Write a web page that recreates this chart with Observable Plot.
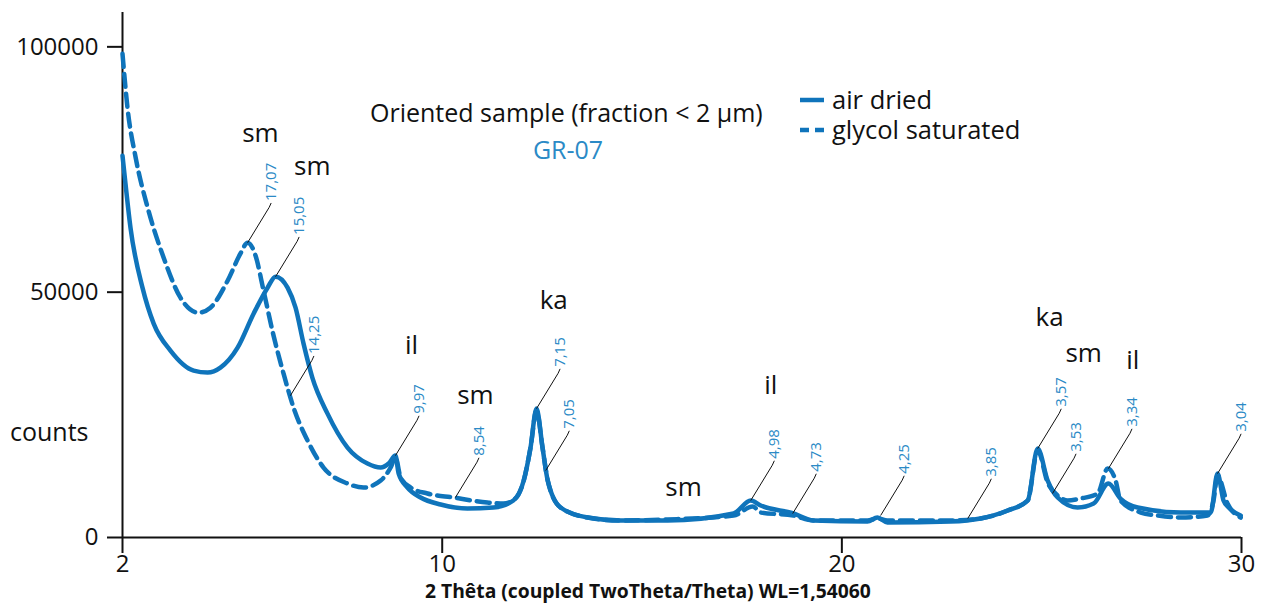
<!DOCTYPE html>
<html>
<head>
<meta charset="utf-8">
<script src="https://cdn.jsdelivr.net/npm/d3@7"></script>
<script src="https://cdn.jsdelivr.net/npm/@observablehq/plot@0.6"></script>
<style>
  html, body { margin: 0; padding: 0; background: #fff; }
  #wrap { position: relative; width: 1266px; height: 608px; font-family: "Open Sans", sans-serif; }
  .ov { position: absolute; white-space: nowrap; line-height: 1; }
</style>
</head>
<body>
<div id="wrap">
  <div id="chart"></div>
  <div class="ov" id="title" style="left:370px; top:100px; font-size:25px; color:#111;"></div>
  <div class="ov" id="subtitle" style="left:530px; width:76px; text-align:center; top:137px; font-size:25px; color:#2b8ac6;"></div>
  <div class="ov" id="legend" style="left:797px; top:85px; font-size:25.5px; color:#111;"></div>
  <div class="ov" id="ylab" style="left:10px; top:419px; font-size:25px; color:#111;"></div>
  <div class="ov" id="xlab" style="left:425px; top:581px; font-size:19.3px; font-weight:bold; color:#111;"></div>
</div>
<script>
// ---- data ----
const titleText = "Oriented sample (fraction < 2 µm)";
const subtitleText = "GR-07";
const seriesNames = ["air dried", "glycol saturated"];
const xLabel = "2 Thêta (coupled TwoTheta/Theta) WL=1,54060";
const yLabel = "counts";
const xTicks = [2, 10, 20, 30];
const yTicks = [0, 50000, 100000];

// air dried (solid)
const airTheta = [2.00, 2.075, 2.20, 2.50, 2.78, 3.20, 3.78, 4.13, 4.45, 4.88, 5.28, 5.63, 5.83, 6.13, 6.33, 6.53, 6.75, 7.13, 7.63, 8.13, 8.46, 8.66, 8.83, 8.91, 9.13, 9.46, 9.96, 10.63, 11.28, 11.78, 12.04, 12.21, 12.36, 12.51, 12.64, 12.96, 13.64, 14.46, 15.64, 17.29, 17.72, 17.97, 18.79, 19.29, 20.64, 20.89, 21.14, 22.72, 23.47, 24.15, 24.65, 24.90, 25.15, 25.40, 25.90, 26.30, 26.67, 26.97, 27.40, 28.48, 29.23, 29.40, 29.55, 29.68, 29.98];
const airCounts = [77800, 72100, 63140, 50920, 43590, 38090, 34010, 33610, 34620, 38700, 45620, 50920, 53160, 50920, 46840, 39510, 32590, 25250, 18330, 15070, 14260, 15070, 16700, 13030, 10180, 8150, 6720, 5910, 6110, 7540, 11610, 18330, 26270, 18330, 11610, 6110, 4070, 3460, 3460, 4890, 7540, 6520, 4890, 3460, 3260, 4070, 3060, 3260, 3870, 5500, 7540, 18130, 11610, 8150, 6110, 6920, 11000, 7940, 6110, 5090, 5090, 13030, 7540, 6110, 4480];

// glycol saturated (dashed)
const glyTheta = [2.00, 2.125, 2.33, 2.63, 3.03, 3.45, 3.90, 4.20, 4.63, 4.95, 5.13, 5.33, 5.53, 5.78, 6.03, 6.28, 6.63, 7.03, 7.63, 8.03, 8.46, 8.71, 8.83, 8.96, 9.21, 9.63, 10.28, 11.13, 11.53, 11.83, 12.04, 12.21, 12.36, 12.51, 12.64, 12.96, 13.64, 14.46, 15.64, 17.29, 17.77, 17.97, 18.79, 19.29, 20.64, 20.89, 21.14, 22.72, 23.47, 24.15, 24.65, 24.90, 25.15, 25.40, 25.65, 25.97, 26.40, 26.65, 26.85, 26.97, 27.48, 27.90, 28.48, 29.15, 29.30, 29.40, 29.65, 29.98];
const glyCounts = [98580, 87580, 77390, 67210, 57030, 48880, 45830, 46840, 52340, 57840, 60080, 57430, 50300, 41140, 33400, 26480, 19760, 14260, 11000, 10180, 11610, 14260, 16290, 12220, 10180, 8960, 8150, 7130, 6920, 7940, 11610, 18330, 25870, 18330, 11610, 6110, 4070, 3460, 3670, 4480, 6310, 5090, 4480, 3460, 3460, 3870, 3460, 3460, 3870, 5500, 7540, 17720, 11200, 8550, 7540, 7940, 8960, 14050, 11610, 7540, 5090, 4480, 4070, 4480, 7540, 12630, 6920, 4070];

// peak annotations (d-spacing labels)
const annLabels = ["17,07", "15,05", "14,25", "9,97", "8,54", "7,15", "7,05", "4,98", "4,73", "4,25", "3,85", "3,57", "3,53", "3,34", "3,04"];
const annTheta = [5.13, 5.83, 6.20, 8.83, 10.33, 12.36, 12.59, 17.72, 18.77, 20.97, 23.15, 24.90, 25.27, 26.67, 29.40];
const annCounts = [60080, 53160, 28900, 16700, 8150, 26270, 13650, 7540, 4890, 4480, 3870, 18130, 8960, 14050, 13030];
const annDashed = [true, false, true, false, true, false, true, false, false, true, true, true, true, true, false];

// mineral labels
const minLabels = ["sm", "sm", "il", "sm", "ka", "sm", "il", "ka", "sm", "il"];
const minTheta = [5.45, 6.75, 9.23, 10.83, 12.79, 16.04, 18.22, 25.20, 26.05, 27.28];
const minCounts = [82280, 75560, 39100, 28920, 48270, 10180, 30960, 44810, 37480, 36050];

// ---- build ----
const blue = "#0f74bb";
const labBlue = "#2b8ac6";
const air = airTheta.map((t, i) => ({t, c: airCounts[i]}));
const gly = glyTheta.map((t, i) => ({t, c: glyCounts[i]}));
const ann = annLabels.map((l, i) => ({l, t: annTheta[i], c: annCounts[i], dashed: annDashed[i]}));
const mins = minLabels.map((l, i) => ({l, t: minTheta[i], c: minCounts[i]}));
const LX = 0.54, LY = 7200, HX = 0.05, HY = 900;

const chart = Plot.plot({
  width: 1266,
  height: 608,
  marginLeft: 122,
  marginRight: 25,
  marginTop: 12,
  marginBottom: 71,
  x: {domain: [2, 30]},
  y: {domain: [0, 107000]},
  style: {fontFamily: "Open Sans, sans-serif", background: "white", color: "#111"},
  marks: [
    Plot.axisX({ticks: xTicks, tickSize: 16, tickPadding: 1, fontSize: 24, strokeWidth: 2, label: null, tickFormat: d => String(d)}),
    Plot.axisY({ticks: yTicks, tickSize: 15, tickPadding: 9, fontSize: 24, strokeWidth: 2, label: null, tickFormat: d => String(d)}),
    Plot.ruleX([2], {y1: 0, y2: 107000, strokeWidth: 2, stroke: "#111"}),
    Plot.ruleY([0], {strokeWidth: 2, stroke: "#111"}),
    Plot.line(gly, {x: "t", y: "c", curve: "monotone-x", stroke: blue, strokeWidth: 4.5, strokeDasharray: "13,7", strokeLinejoin: "round"}),
    Plot.line(air, {x: "t", y: "c", curve: "monotone-x", stroke: blue, strokeWidth: 4.5, strokeLinejoin: "round", strokeLinecap: "round"}),
    Plot.link(ann, {x1: "t", y1: "c", x2: d => d.t + LX, y2: d => d.c + LY, stroke: "#111", strokeWidth: 1,
      strokeDasharray: d => d.dashed ? "3,3" : null}),
    Plot.link(ann, {x1: d => d.t + LX, y1: d => d.c + LY, x2: d => d.t + LX + HX, y2: d => d.c + LY + HY, stroke: "#111", strokeWidth: 1}),
    Plot.text(ann, {x: d => d.t + LX + HX, y: d => d.c + LY + HY, text: "l", rotate: -90, textAnchor: "start", lineAnchor: "middle", dy: -2, fontSize: 15, fill: labBlue}),
    Plot.text(mins, {x: "t", y: "c", text: "l", fontSize: 26, fill: "#111"})
  ]
});
document.getElementById("chart").appendChild(chart);

document.getElementById("title").textContent = titleText;
document.getElementById("subtitle").textContent = subtitleText;
document.getElementById("ylab").textContent = yLabel;
document.getElementById("xlab").textContent = xLabel;

// legend
const leg = document.getElementById("legend");
seriesNames.forEach((name, i) => {
  const row = document.createElement("div");
  row.style.display = "flex";
  row.style.alignItems = "center";
  row.style.height = "30px";
  const sw = d3.create("svg").attr("width", 30).attr("height", 20);
  sw.append("line").attr("x1", 3).attr("x2", 27).attr("y1", 10).attr("y2", 10)
    .attr("stroke", blue).attr("stroke-width", 4.5)
    .attr("stroke-dasharray", i === 1 ? "9,6" : null);
  row.appendChild(sw.node());
  const lab = document.createElement("span");
  lab.style.marginLeft = "5px";
  lab.textContent = name;
  row.appendChild(lab);
  leg.appendChild(row);
});
</script>
</body>
</html>
